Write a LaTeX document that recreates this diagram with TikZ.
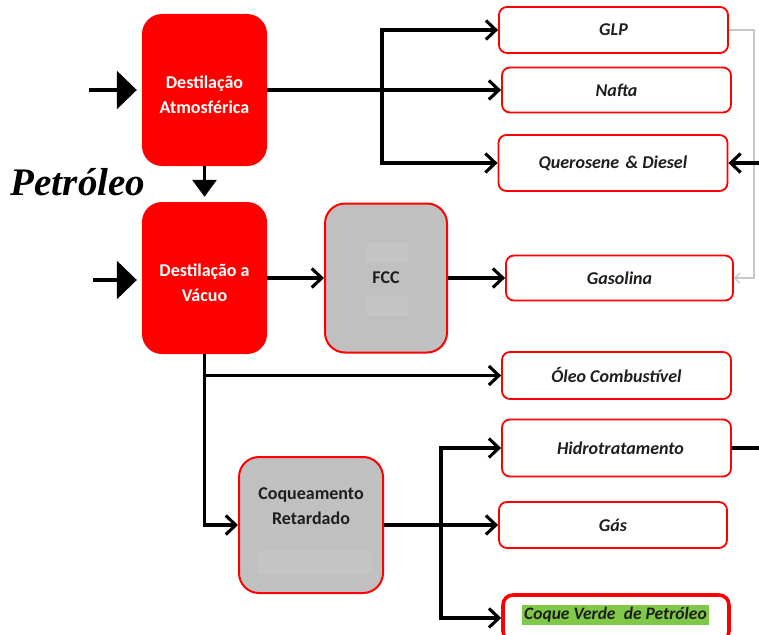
\documentclass[tikz,border=0pt]{standalone}
\usepackage{fontspec}
\setmainfont{Carlito}
\newfontfamily\titleserif{Liberation Serif}
\usetikzlibrary{arrows.meta}

\definecolor{boxred}{RGB}{255,0,0}
\definecolor{unitgray}{RGB}{192,192,192}
\definecolor{patchgray}{RGB}{197,197,197}
\definecolor{hlgreen}{RGB}{128,200,72}
\definecolor{linkgray}{RGB}{200,200,200}
\definecolor{inkdark}{RGB}{30,30,30}

\tikzset{
  unitbox/.style={rectangle, rounded corners=20pt, fill=boxred,
    minimum width=125pt, minimum height=152pt, inner sep=0pt},
  unitlabel/.style={text=white, font=\bfseries\fontsize{18}{25}\selectfont,
    align=center, inner sep=0pt},
  procbox/.style={rectangle, rounded corners=20pt, fill=unitgray, draw=boxred,
    line width=2pt, inner sep=0pt},
  proclabel/.style={text=inkdark, font=\bfseries\fontsize{18}{25}\selectfont,
    align=center, inner sep=0pt},
  prodbox/.style={rectangle, rounded corners=8pt, draw=boxred, line width=1.8pt,
    fill=white, text=inkdark, font=\bfseries\itshape\fontsize{18}{21}\selectfont,
    minimum width=229pt, minimum height=46pt, inner sep=0pt},
  pipe/.style={line width=3.1pt, draw=black},
  flow/.style={pipe, -{Straight Barb[length=10pt,width=19pt]}},
  feed/.style={pipe, -{Triangle[length=20pt,width=38pt]}},
  dropfeed/.style={pipe, -{Triangle[length=17pt,width=24pt]}},
  greylink/.style={line width=1.3pt, draw=linkgray,
    -{Straight Barb[length=5pt,width=10pt]}},
}

\begin{document}
\begin{tikzpicture}[x=1pt, y=-1pt]
  \useasboundingbox (0,0) rectangle (759,634);
  \clip (0,0) rectangle (759,634);
  \fill[white] (0,0) rectangle (759,634);

  % distillation units
  \node[unitbox] (da) at (204.5,90) {};
  \node[unitlabel] (datext) at (204.5,94.5) {Destilação\\Atmosférica};
  \node[unitbox] (dv) at (204.5,278) {};
  \node[unitlabel] (dvtext) at (204.5,282.5) {Destilação a\\Vácuo};

  % conversion units
  \node[procbox, minimum width=122pt, minimum height=149pt] (fcc) at (386,278) {};
  \fill[patchgray] (367,243) rectangle (408,262);
  \fill[patchgray] (367,296) rectangle (408,316);
  \node[proclabel] (fcctext) at (fcc.center) {FCC};

  \node[procbox, minimum width=144pt, minimum height=136pt] (coq) at (311,525) {};
  \fill[patchgray] (258,551) rectangle (372,574);
  \node[proclabel] (coqtext) at (311,506) {Coqueamento\\Retardado};

  % products
  \node[prodbox] (glp)   at (613.5,30)  {GLP\hspace{20pt}};
  \node[prodbox, minimum height=45pt] (nafta) at (616.5,90) {Nafta\hspace{18pt}};
  \node[prodbox, minimum height=56pt] (ker)   at (613,163)  {Querosene\hspace{0.12em} \& Diesel\hspace{6pt}};
  \node[prodbox, minimum width=227pt, minimum height=45pt] (gasol) at (619.5,278) {Gasolina\hspace{12pt}};
  \node[prodbox, minimum height=47pt] (oleo)  at (616.5,375.5) {Óleo Combustível\hspace{4pt}};
  \node[prodbox, minimum height=57pt] (hidro) at (616.5,448) {\hspace{8pt}Hidrotratamento};
  \node[prodbox, minimum width=228pt] (gas)   at (613,525) {Gás};
  \node[prodbox, line width=3.6pt, rounded corners=10pt, minimum width=226pt] (coque) at (616,618) {};
  \node[fill=hlgreen, text=inkdark, font=\bfseries\itshape\fontsize{17.5}{20}\selectfont,
        inner xsep=2pt, inner ysep=0pt, text height=14pt, text depth=6pt]
        (coquetext) at (615.5,615) {Coque Verde\hspace{0.25em} de Petróleo};

  % title
  \node[font=\titleserif\bfseries\itshape\fontsize{39}{44}\selectfont, anchor=base,
        inner sep=0pt] (petro) at (78,195) {Petróleo};

  % feeds
  \coordinate (feedA) at (89,90);
  \coordinate (feedV) at (93,280);
  \draw[feed, shorten >=5pt] (feedA) -- (da.west);
  \draw[feed, shorten >=5pt] (feedV) -- (feedV -| dv.west);
  \draw[dropfeed, shorten >=5pt] (da.south) -- (dv.north);

  % atmospheric cuts
  \coordinate (splitA) at (382,90);
  \draw[pipe] (da.east) -- (splitA);
  \draw[flow] (splitA) |- (glp.west);
  \draw[flow] (splitA) -- (nafta.west);
  \draw[flow] (splitA) |- (ker.west);

  % vacuum and FCC
  \draw[flow] (dv.east) -- (fcc.west);
  \draw[flow] (fcc.east) -- (gasol.west);
  \draw[flow] (dv.south) |- (coq.west);
  \draw[flow] (dv.south |- oleo.west) -- (oleo.west);

  % LPG routed to gasoline pool
  \coordinate (greyrun) at (754,0);
  \draw[greylink] (glp.east) -- (glp.east -| greyrun) |- (gasol.east);

  % streams at the right edge
  \coordinate (kerin) at (762,163);
  \coordinate (hidroout) at (762,448);
  \draw[flow] (kerin) -- (ker.east);
  \draw[pipe] (hidro.east) -- (hidroout);

  % coker products
  \coordinate (splitC) at (441,525);
  \draw[pipe] (coq.east) -- (splitC);
  \draw[flow] (splitC) -- (gas.west);
  \draw[flow] (splitC) |- (hidro.west);
  \draw[flow] (splitC) |- (coque.west);
\end{tikzpicture}
\end{document}
